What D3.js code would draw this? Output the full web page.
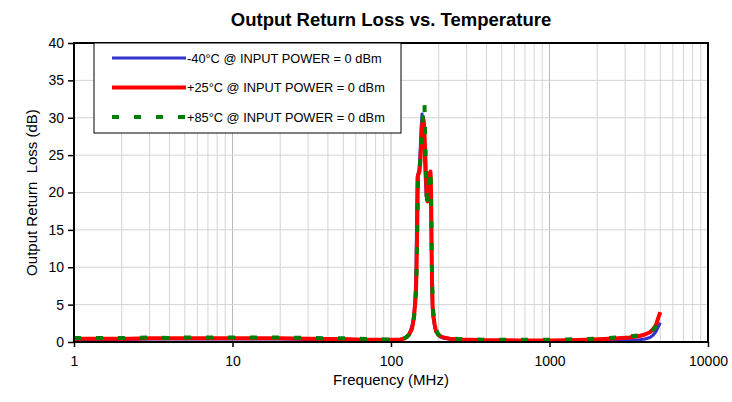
<!DOCTYPE html>
<html>
<head>
<meta charset="utf-8">
<script src="https://cdn.jsdelivr.net/npm/d3@7"></script>
<style>
  body { margin: 0; background: #fff; }
  svg { display: block; font-family: "Liberation Sans", Arial, sans-serif; }
</style>
</head>
<body>
<svg id="chart" width="732" height="402"></svg>
<script>
// ---- Data ----
const freqMHz = [1, 1.3, 1.7, 2.2, 3, 4, 5, 7, 10, 14, 20, 30, 40, 50, 60, 70, 80, 90, 100, 108, 114, 118, 122.5, 126, 130, 133, 135.7, 138, 139.7, 142, 143.8, 145, 146, 148, 150, 151.3, 153, 154.6, 157, 159.2, 161, 162.6, 164.5, 166.3, 168, 170, 172, 173.7, 175.5, 177.5, 179, 180, 181.5, 183, 184, 188, 192, 198, 204, 215, 235, 270, 315, 400, 500, 650, 800, 1000, 1300, 1700, 2200, 2700, 3200, 3700, 4000, 4300, 4500, 4700, 4850, 5000];

const lossM40 = [0.35, 0.35, 0.35, 0.35, 0.4, 0.4, 0.4, 0.4, 0.4, 0.4, 0.4, 0.35, 0.3, 0.3, 0.25, 0.25, 0.2, 0.2, 0.2, 0.25, 0.3, 0.4, 0.55, 0.8, 1.1, 1.6, 2.2, 3.0, 4.0, 6.0, 10, 16, 22, 22.5, 23, 24, 26, 28.5, 30.5, 29.5, 27, 25, 22, 20, 19, 19.5, 21, 22.5, 22.7, 21, 15, 10, 6, 4, 3.3, 2.2, 1.4, 1.0, 0.7, 0.5, 0.35, 0.25, 0.2, 0.15, 0.15, 0.1, 0.1, 0.1, 0.15, 0.15, 0.2, 0.2, 0.25, 0.3, 0.4, 0.6, 0.9, 1.4, 2.0, 2.6];

const loss25 = [0.45, 0.45, 0.45, 0.45, 0.5, 0.5, 0.5, 0.5, 0.5, 0.5, 0.5, 0.45, 0.4, 0.4, 0.35, 0.3, 0.3, 0.3, 0.3, 0.3, 0.35, 0.4, 0.5, 0.7, 1.0, 1.4, 1.8, 2.6, 3.5, 5.0, 7.0, 10, 14, 22.3, 22.6, 22.8, 24, 26, 28.5, 30, 29.5, 28, 25, 22, 19.5, 18.8, 20, 21.5, 22.6, 22.8, 20, 15, 8, 5, 4, 2.5, 1.5, 1.0, 0.8, 0.6, 0.45, 0.35, 0.3, 0.25, 0.25, 0.2, 0.2, 0.2, 0.25, 0.3, 0.4, 0.5, 0.6, 0.8, 1.0, 1.3, 1.7, 2.3, 3.2, 4.0];

const loss85 = [0.55, 0.55, 0.5, 0.55, 0.6, 0.55, 0.6, 0.6, 0.6, 0.6, 0.6, 0.55, 0.5, 0.5, 0.45, 0.4, 0.4, 0.35, 0.35, 0.35, 0.4, 0.45, 0.55, 0.7, 1.0, 1.3, 1.7, 2.4, 3.3, 4.8, 6.8, 9.5, 13, 21.5, 22.5, 23, 24.5, 26.5, 28.5, 30.5, 31.5, 32, 27, 22.5, 19.5, 19, 20.5, 22, 22.8, 23, 20.5, 16, 9, 5.5, 4.5, 2.8, 1.7, 1.1, 0.8, 0.6, 0.5, 0.4, 0.35, 0.3, 0.3, 0.3, 0.3, 0.3, 0.35, 0.4, 0.5, 0.6, 0.75, 0.9, 1.1, 1.3, 1.6, 2.1, 2.7, 3.2];

const seriesNames = ["-40°C @ INPUT POWER = 0 dBm", "+25°C @ INPUT POWER = 0 dBm", "+85°C @ INPUT POWER = 0 dBm"];
const xTicks = [1, 10, 100, 1000, 10000];
const yTicks = [0, 5, 10, 15, 20, 25, 30, 35, 40];

// ---- Layout ----
const svg = d3.select("#chart");
const L = 74, R = 708, T = 43, B = 342;
const x = d3.scaleLog().domain([1, 10000]).range([L, R]);
const y = d3.scaleLinear().domain([0, 40]).range([B, T]);

// grid
const minor = [];
for (let d = 1; d < 10000; d *= 10) for (let k = 2; k <= 9; k++) minor.push(d * k);
svg.append("g").selectAll("line").data(minor).join("line")
  .attr("x1", d => x(d)).attr("x2", d => x(d)).attr("y1", T).attr("y2", B)
  .attr("stroke", "#d4d4d4").attr("stroke-width", 1);
svg.append("g").selectAll("line").data(xTicks.slice(1, -1)).join("line")
  .attr("x1", d => x(d)).attr("x2", d => x(d)).attr("y1", T).attr("y2", B)
  .attr("stroke", "#b8b8b8").attr("stroke-width", 1);
svg.append("g").selectAll("line").data(yTicks.slice(1, -1)).join("line")
  .attr("x1", L).attr("x2", R).attr("y1", d => y(d)).attr("y2", d => y(d))
  .attr("stroke", "#d4d4d4").attr("stroke-width", 1);

// lines
const data = [lossM40, loss25, loss85].map(v => v.map((val, i) => [freqMHz[i], val]));
const line = d3.line().x(d => x(d[0])).y(d => y(d[1])).curve(d3.curveLinear);
const styles = [
  { color: "#3333cc", width: 3, dash: null },
  { color: "#ff0000", width: 4, dash: null },
  { color: "#008000", width: 4, dash: "7,15" }
];
data.forEach((s, i) => {
  svg.append("path").datum(s).attr("d", line)
    .attr("fill", "none").attr("stroke", styles[i].color)
    .attr("stroke-width", styles[i].width)
    .attr("stroke-linejoin", "round")
    .attr("stroke-dasharray", styles[i].dash);
});

// frame
svg.append("rect").attr("x", L).attr("y", T).attr("width", R - L).attr("height", B - T)
  .attr("fill", "none").attr("stroke", "#000").attr("stroke-width", 2);

// axes
const xAxis = svg.append("g").attr("transform", `translate(0,${B})`)
  .call(d3.axisBottom(x).tickValues(xTicks).tickFormat(d3.format("d")).tickSize(5).tickPadding(9));
const yAxis = svg.append("g").attr("transform", `translate(${L},0)`)
  .call(d3.axisLeft(y).tickValues(yTicks).tickSize(6).tickPadding(4));
[xAxis, yAxis].forEach(a => {
  a.select(".domain").remove();
  a.selectAll("line").attr("stroke", "#000").attr("stroke-width", 1.5);
  a.selectAll("text").attr("fill", "#000").style("font-size", "14px")
    .style("font-family", "'Liberation Sans', Arial, sans-serif");
});

// legend
const lg = svg.append("g");
lg.append("rect").attr("x", 94).attr("y", T).attr("width", 307).attr("height", 90)
  .attr("fill", "#fff").attr("stroke", "#000").attr("stroke-width", 1);
seriesNames.forEach((name, i) => {
  const ly = 58 + i * 29.5;
  lg.append("line").attr("x1", 112).attr("x2", 186).attr("y1", ly).attr("y2", ly)
    .attr("stroke", styles[i].color).attr("stroke-width", styles[i].width)
    .attr("stroke-dasharray", styles[i].dash);
  lg.append("text").attr("x", 187).attr("y", ly + 4.5).text(name)
    .style("font-size", "12.8px").attr("fill", "#000");
});

// titles
svg.append("text").attr("x", 391).attr("y", 26).attr("text-anchor", "middle")
  .style("font-size", "18.5px").style("font-weight", "bold").text("Output Return Loss vs. Temperature");
svg.append("text").attr("x", 391).attr("y", 385).attr("text-anchor", "middle")
  .style("font-size", "15px").text("Frequency (MHz)");
svg.append("text").attr("transform", `translate(37,${(T + B) / 2}) rotate(-90)`)
  .attr("text-anchor", "middle").style("font-size", "15px").text("Output Return  Loss (dB)")
  .attr("xml:space", "preserve").style("white-space", "pre");
</script>
</body>
</html>
